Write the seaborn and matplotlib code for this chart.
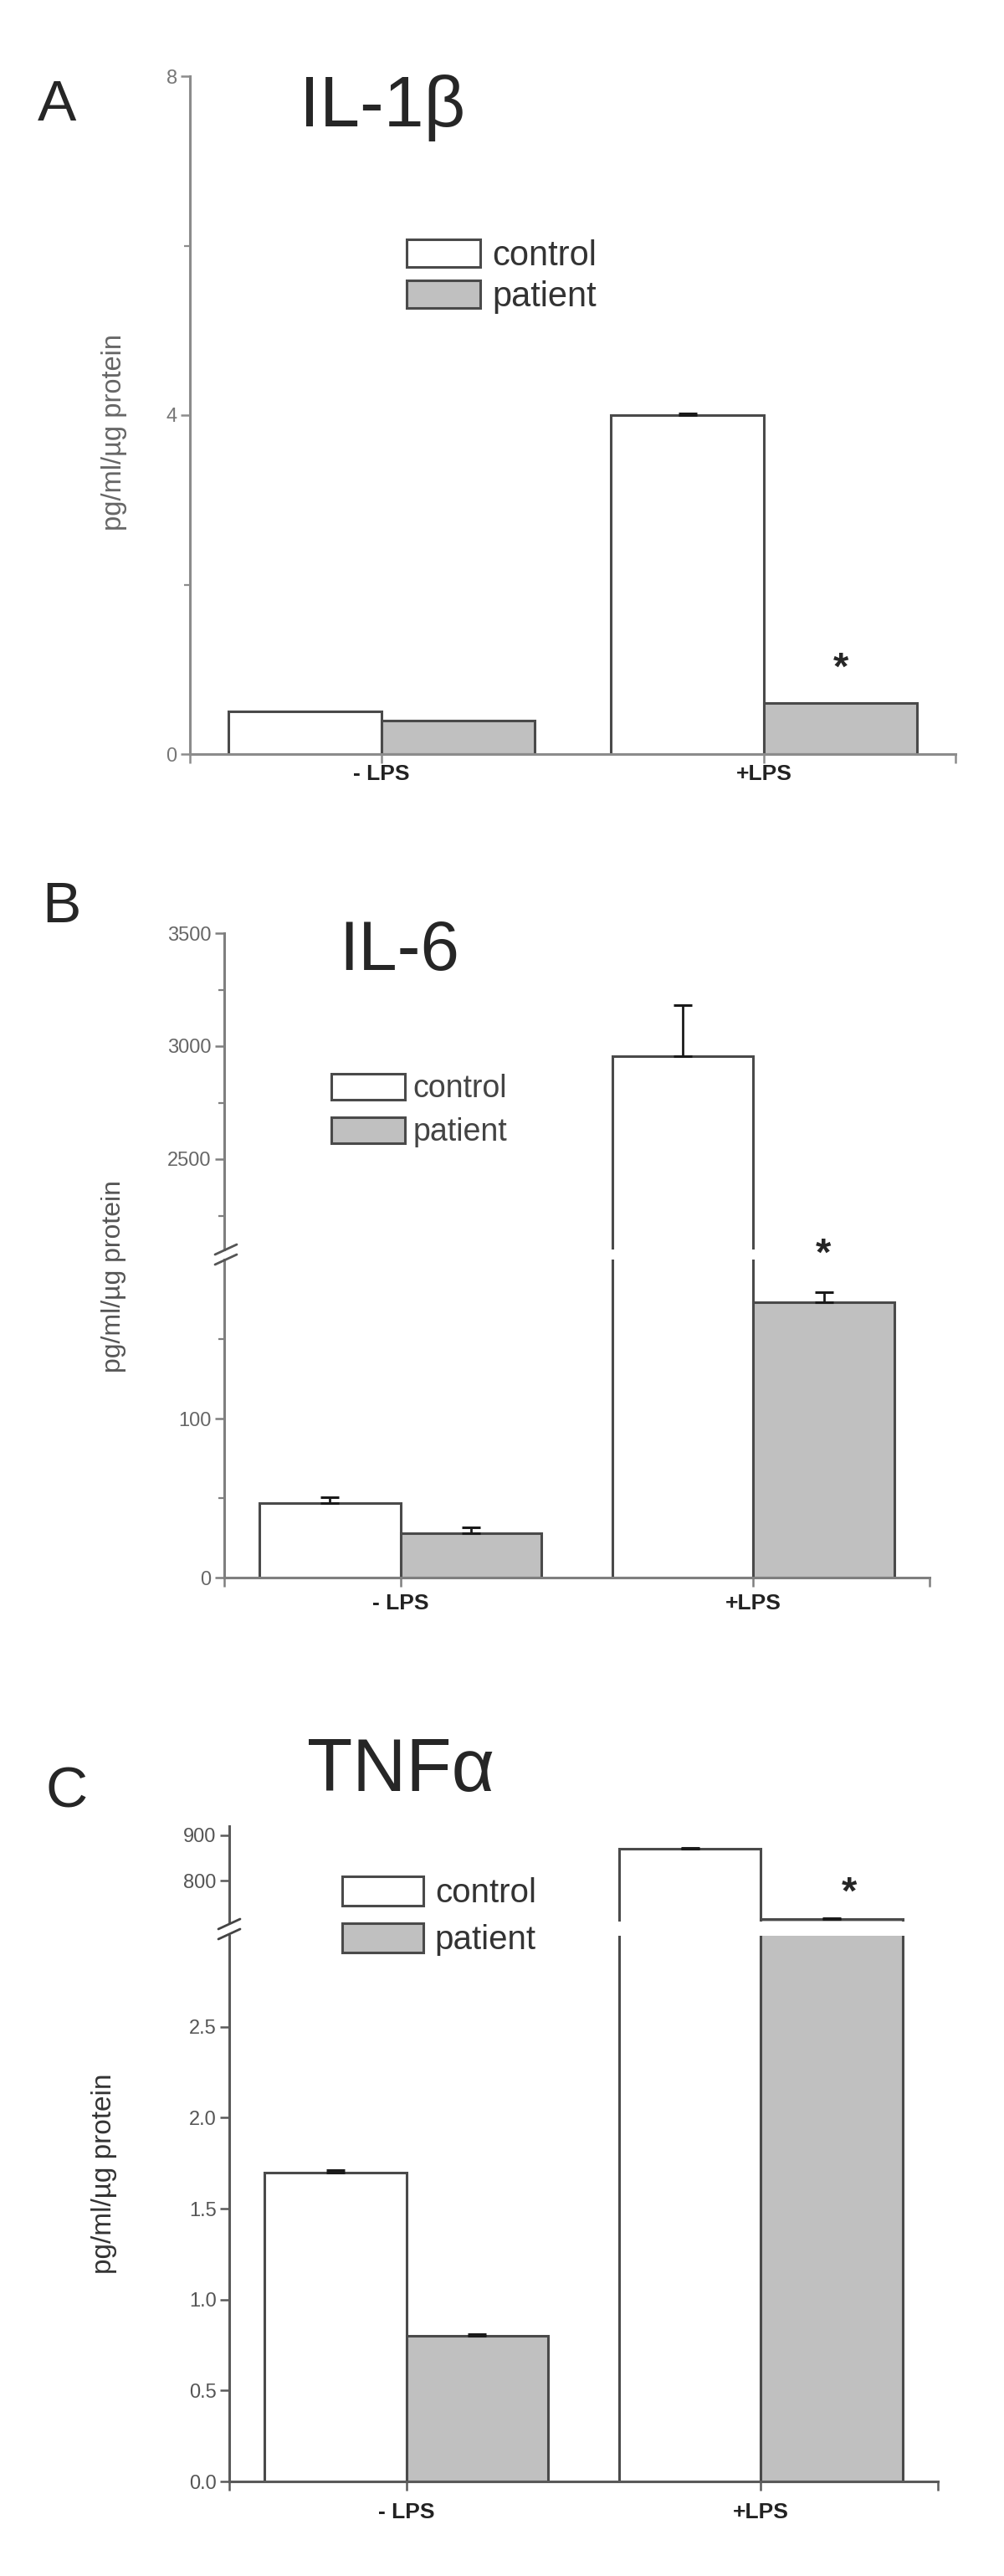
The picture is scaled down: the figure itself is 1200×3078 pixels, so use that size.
import pandas as pd
import seaborn as sns
import matplotlib.pyplot as plt
from matplotlib.ticker import FixedLocator, FormatStrFormatter
from matplotlib.patches import Patch
from matplotlib.lines import Line2D

# conditions / groups
conditions = ["- LPS", "+LPS"]
groups = ["control", "patient"]

# IL-1beta (pg/ml/ug protein)
il1b_control = [0.50, 4.00]
il1b_patient = [0.40, 0.60]
il1b_control_err = [0.0, 0.02]
il1b_patient_err = [0.0, 0.0]

# IL-6
il6_control = [47, 2955]
il6_patient = [28, 173]
il6_control_err = [3.5, 225]
il6_patient_err = [3.5, 6.5]

# TNF-alpha
tnf_control = [1.70, 870]
tnf_patient = [0.80, 715]
tnf_control_err = [0.01, 2.5]
tnf_patient_err = [0.01, 2.5]

ylabel = "pg/ml/\u00b5g protein"

sns.set_style("ticks")
plt.rcParams["font.family"] = ["Liberation Sans", "DejaVu Sans"]

W, H = 1200, 3078
fig = plt.figure(figsize=(W / 100, H / 100), dpi=100)

palette = {"control": "white", "patient": "#c0c0c0"}
edge = "#4a4a4a"


def add_ax(left, top, right, bottom):
    return fig.add_axes([left / W, 1 - bottom / H, (right - left) / W, (bottom - top) / H])


def draw_bars(ax, control, patient, c_err, p_err):
    df = pd.DataFrame({
        "condition": conditions * 2,
        "group": ["control"] * len(conditions) + ["patient"] * len(conditions),
        "value": control + patient,
    })
    sns.barplot(data=df, x="condition", y="value", hue="group", order=conditions,
                hue_order=groups, palette=palette, saturation=1, edgecolor=edge,
                linewidth=2.2, width=0.8, errorbar=None, legend=False, ax=ax)
    for cont, err in zip(ax.containers, [c_err, p_err]):
        for bar, e in zip(cont, err):
            if e <= 0:
                continue
            ax.errorbar(bar.get_x() + bar.get_width() / 2, bar.get_height(),
                        yerr=[[0], [e]], fmt="none", ecolor="#1a1a1a",
                        elinewidth=2, capsize=8, capthick=2.2, zorder=4)


def style(ax, spine_col, lab_col, bottom=True, xpad=2):
    sns.despine(ax=ax, top=True, right=True, bottom=not bottom)
    ax.set_xlim(-0.5, 1.5)
    ax.set_xlabel("")
    ax.set_ylabel("")
    ax.set_facecolor("none")
    for s in ["left", "bottom"]:
        ax.spines[s].set_color(spine_col)
        ax.spines[s].set_linewidth(2.2)
    ax.tick_params(axis="y", which="major", direction="out", length=8, width=1.8,
                   color=spine_col, labelsize=17, labelcolor=lab_col, pad=3)
    ax.tick_params(axis="y", which="minor", direction="out", length=5, width=1.6,
                   color=spine_col)
    if bottom:
        ax.set_xticks([-0.5, 0, 1, 1.5])
        ax.set_xticklabels(["", conditions[0], conditions[1], ""],
                           fontweight="bold", fontsize=19, color="#222222")
        ax.tick_params(axis="x", direction="out", length=8, width=1.8,
                       color=spine_col, pad=xpad)
    else:
        ax.set_xticks([])
        ax.tick_params(axis="x", bottom=False, labelbottom=False)


def add_legend(x, y, fs, hl, hh, pad, spacing, col):
    handles = [Patch(facecolor=palette[g], edgecolor=edge, linewidth=2.2, label=g)
               for g in groups]
    fig.legend(handles=handles, loc="upper left", bbox_to_anchor=(x / W, 1 - y / H),
               frameon=False, fontsize=fs, handlelength=hl, handleheight=hh,
               handletextpad=pad, labelspacing=spacing, borderpad=0,
               borderaxespad=0, labelcolor=col)


def break_marks(x, y, col):
    for dy in (-6, 6):
        fig.add_artist(Line2D([(x - 13) / W, (x + 13) / W],
                              [1 - (y + dy + 6) / H, 1 - (y + dy - 6) / H],
                              color=col, linewidth=2, transform=fig.transFigure))


# ---------------- A: IL-1beta ----------------
axA = add_ax(227, 91, 1142, 901)
draw_bars(axA, il1b_control, il1b_patient, il1b_control_err, il1b_patient_err)
axA.set_ylim(0, 8)
axA.yaxis.set_major_locator(FixedLocator([0, 4, 8]))
axA.yaxis.set_minor_locator(FixedLocator([2, 6]))
style(axA, "#8c8c8c", "#777777", xpad=1)
axA.set_ylabel(ylabel, fontsize=23.5, color="#666666", va="center")
axA.yaxis.set_label_coords(137 / W, 1 - 517 / H, transform=fig.transFigure)
axA.text(1.2, 1.0, "*", ha="center", va="center", fontsize=34, fontweight="bold")
fig.text(358 / W, 1 - 151 / H, "IL-1\u03b2", fontsize=62, va="baseline")
fig.text(45 / W, 1 - 144 / H, "A", fontsize=50, va="baseline")
add_legend(486, 286, 30, 2.1, 0.83, 0.35, 0.22, "#333333")

# ---------------- B: IL-6 (broken axis) ----------------
axB_hi = add_ax(268, 1115, 1111, 1493)
axB_lo = add_ax(268, 1505, 1111, 1885)
for ax in (axB_hi, axB_lo):
    draw_bars(ax, il6_control, il6_patient, il6_control_err, il6_patient_err)
axB_hi.set_ylim(2100, 3500)
axB_hi.yaxis.set_major_locator(FixedLocator([2500, 3000, 3500]))
axB_hi.yaxis.set_minor_locator(FixedLocator([2250, 2750, 3250]))
axB_lo.set_ylim(0, 200)
axB_lo.yaxis.set_major_locator(FixedLocator([0, 100]))
axB_lo.yaxis.set_minor_locator(FixedLocator([50, 150]))
style(axB_hi, "#7f7f7f", "#666666", bottom=False)
style(axB_lo, "#7f7f7f", "#666666", xpad=6)
axB_lo.set_ylabel(ylabel, fontsize=23, color="#555555", va="center")
axB_lo.yaxis.set_label_coords(136 / W, 1 - 1525 / H, transform=fig.transFigure)
axB_lo.text(1.2, 203, "*", ha="center", va="center", fontsize=34, fontweight="bold")
break_marks(270, 1499, "#555555")
fig.text(405 / W, 1 - 1159 / H, "IL-6", fontsize=60, va="baseline")
fig.text(50 / W, 1 - 1102 / H, "B", fontsize=50, va="baseline")
add_legend(396, 1283, 27, 2.35, 0.88, 0.25, 0.42, "#444444")

# ---------------- C: TNF-alpha (broken axis) ----------------
axC_hi = add_ax(274, 2182, 1121, 2296)
axC_lo = add_ax(274, 2313, 1121, 2965)
for ax in (axC_hi, axC_lo):
    draw_bars(ax, tnf_control, tnf_patient, tnf_control_err, tnf_patient_err)
axC_hi.set_ylim(710, 920)
axC_hi.yaxis.set_major_locator(FixedLocator([800, 900]))
axC_lo.set_ylim(0, 3.0)
axC_lo.yaxis.set_major_locator(FixedLocator([0, 0.5, 1.0, 1.5, 2.0, 2.5]))
axC_lo.yaxis.set_major_formatter(FormatStrFormatter("%.1f"))
style(axC_hi, "#5a5a5a", "#555555", bottom=False)
style(axC_lo, "#5a5a5a", "#555555", xpad=10)
axC_lo.set_ylabel(ylabel, fontsize=24, color="#333333", va="center")
axC_lo.yaxis.set_label_coords(124 / W, 1 - 2597 / H, transform=fig.transFigure)
axC_hi.text(1.25, 772, "*", ha="center", va="center", fontsize=34, fontweight="bold")
break_marks(274, 2305, "#444444")
fig.text(367 / W, 1 - 2140 / H, "TNF\u03b1", fontsize=64, va="baseline")
fig.text(54 / W, 1 - 2160 / H, "C", fontsize=50, va="baseline")
add_legend(409, 2242, 29, 2.4, 0.97, 0.35, 0.4, "#333333")

fig.savefig("out.png", dpi=100, facecolor="white")
